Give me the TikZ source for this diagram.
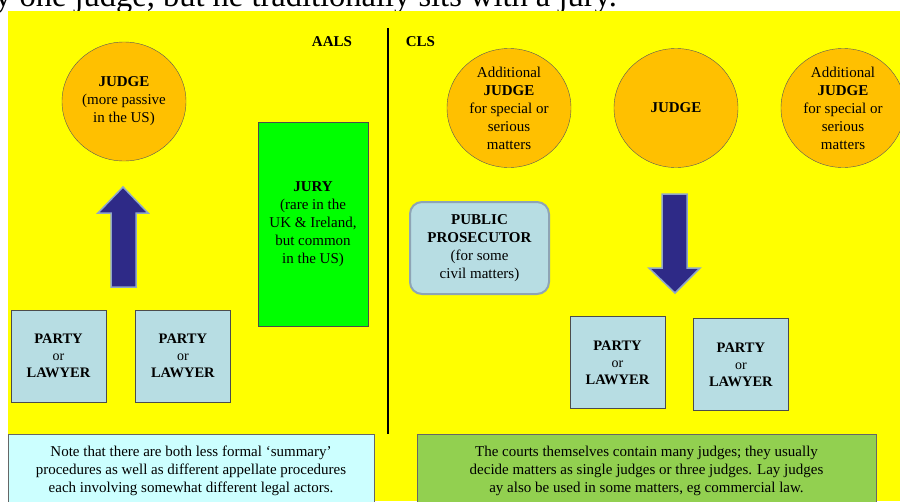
\documentclass[tikz,border=0pt]{standalone}
\usepackage{fontspec}
\setmainfont{Liberation Serif}
\usetikzlibrary{shapes.geometric,positioning}
\definecolor{bench}{HTML}{FFFF00}
\definecolor{judgefill}{HTML}{FFC000}
\definecolor{partyfill}{HTML}{B7DDE3}
\definecolor{juryfill}{HTML}{00FF00}
\definecolor{notecyan}{HTML}{CCFFFF}
\definecolor{notegreen}{HTML}{92D050}
\definecolor{arrowfill}{HTML}{2E2A87}
\definecolor{arrowedge}{HTML}{8FA6C9}
\definecolor{ppedge}{HTML}{8EA4B5}

\begin{document}
\begin{tikzpicture}[
  x=1pt, y=-1pt,
  every node/.style={font=\fontsize{15}{18}\selectfont, align=center},
  judge/.style={ellipse, draw=black!65, fill=judgefill, inner sep=0pt,
                minimum width=124, minimum height=119},
  party/.style={rectangle, draw=black!70, fill=partyfill, inner sep=0pt,
                minimum width=95, minimum height=92,
                font=\fontsize{14.5}{17}\selectfont},
  note/.style={rectangle, draw=black!60, inner sep=0pt},
  blockarrow/.style={fill=arrowfill, draw=arrowedge, line width=1.5pt},
  head/.style={font=\fontsize{15}{18}\selectfont\bfseries, anchor=base, inner sep=0pt},
]
\useasboundingbox (0,0) rectangle (900,501);

%% background and caption line above
\node[anchor=base east, inner sep=0pt, font=\fontsize{32.5}{38}\selectfont] (caption)
  at (617,6.5) {ly one judge, but he traditionally sits with a jury.};
\fill[bench] (8,11) rectangle (900,501);

%% system labels
\node[head] (aals) at (332,46) {AALS};
\node[head] (cls) at (420.5,46) {CLS};
\coordinate (divtop) at (388,28);
\coordinate (divbot) at (388,434);
\draw[line width=1.5pt] (divtop) -- (divbot);

%% AALS side
\node[judge] (J) at (124,101.5)
  {\textbf{JUDGE}\\(more passive\\in the US)};

\node[rectangle, draw=black!70, fill=juryfill, minimum width=110,
      minimum height=204] (jury) at (313,224)
  {\textbf{JURY}\\(rare in the\\UK \& Ireland,\\but common\\in the US)};

\node[party] (P1) at (58.5,356)
  {\textbf{PARTY}\\{\fontsize{14}{14}\selectfont or}\\\textbf{LAWYER}};
\node[party, right=29 of P1] (P2)
  {\textbf{PARTY}\\{\fontsize{14}{14}\selectfont or}\\\textbf{LAWYER}};

\filldraw[blockarrow] (111,287) -- (111,213) -- (98,213) -- (123,187)
  -- (148,213) -- (136,213) -- (136,287) -- cycle;

%% CLS side
\node[judge] (A1) at (509,108)
  {Additional\\\textbf{JUDGE}\\for special or\\serious\\matters};
\node[judge] (J2) at (676,108) {\textbf{JUDGE}};
\node[judge] (A2) at (843,108)
  {Additional\\\textbf{JUDGE}\\for special or\\serious\\matters};

\node[rectangle, rounded corners=12pt, draw=ppedge, line width=2pt,
      fill=partyfill, minimum width=139, minimum height=92] (PP) at (479.5,248)
  {\textbf{PUBLIC}\\\textbf{PROSECUTOR}\\(for some\\civil matters)};

\filldraw[blockarrow] (662,194) -- (687,194) -- (687,268) -- (700,268)
  -- (675,293) -- (649,268) -- (662,268) -- cycle;

\node[party] (P3) at (617.5,362.5)
  {\textbf{PARTY}\\{\fontsize{14}{14}\selectfont or}\\\textbf{LAWYER}};
\node[party, right=28 of P3, yshift=-2] (P4)
  {\textbf{PARTY}\\{\fontsize{14}{14}\selectfont or}\\\textbf{LAWYER}};

%% notes
\node[note, fill=notecyan, minimum width=366, minimum height=74] (N1) at (191,471)
  {Note that there are both less formal `summary'\\
   procedures as well as different appellate procedures\\
   each involving somewhat different legal actors.};
\node[note, fill=notegreen, minimum width=459, minimum height=74] (N2) at (646.5,471)
  {The courts themselves contain many judges; they usually\\
   decide matters as single judges or three judges. Lay judges\\
   ay also be used in some matters, eg commercial law.};

\end{tikzpicture}
\end{document}
